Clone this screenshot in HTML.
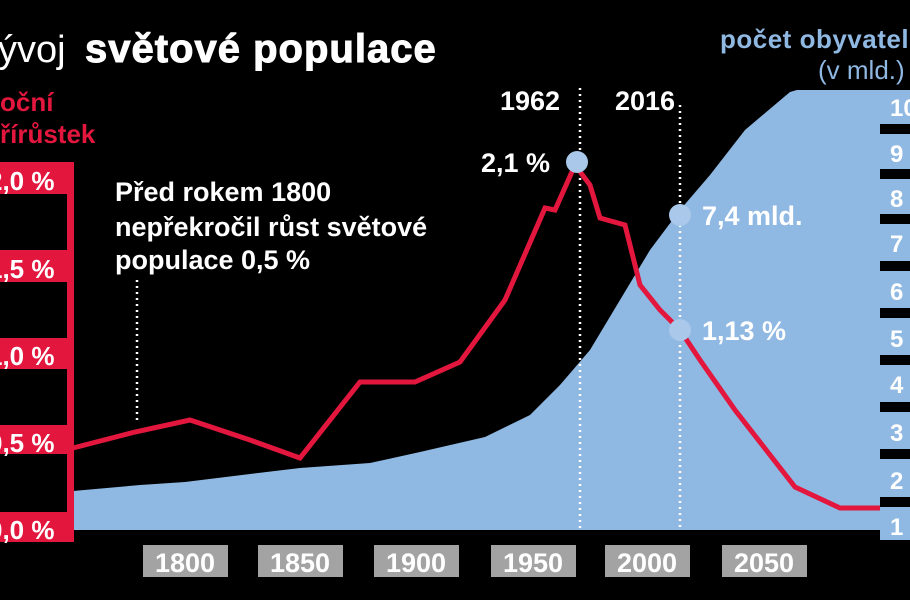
<!DOCTYPE html>
<html><head><meta charset="utf-8"><style>
body{margin:0;background:#000;}
svg{display:block}
text{font-family:"Liberation Sans","DejaVu Sans",sans-serif;}
</style></head><body>
<svg width="910" height="600" viewBox="0 0 910 600" xmlns="http://www.w3.org/2000/svg">
<rect width="910" height="600" fill="#000"/>
<polygon fill="#8fb8e2" points="73,530 73,491 140,485 185,482 250,474 300,468 370,463 420,452 485,437 530,415 560,385 590,350 620,300 650,250 680,210 710,175 745,130 790,92 797,90 880,90 880,530"/>
<rect x="880" y="90" width="30" height="450" fill="#8fb8e2"/>
<g fill="#000">
<rect x="880" y="124" width="30" height="10"/>
<rect x="880" y="169" width="30" height="10"/>
<rect x="880" y="214" width="30" height="10"/>
<rect x="880" y="261" width="30" height="10"/>
<rect x="880" y="308" width="30" height="10"/>
<rect x="880" y="355" width="30" height="10"/>
<rect x="880" y="402" width="30" height="10"/>
<rect x="880" y="449" width="30" height="10"/>
<rect x="880" y="497" width="30" height="10"/>
</g>
<g fill="#fff" font-weight="bold" font-size="24">
<text x="890" y="116">10</text><text x="890" y="162">9</text><text x="890" y="207">8</text>
<text x="890" y="252">7</text><text x="890" y="300">6</text><text x="890" y="347">5</text>
<text x="890" y="393">4</text><text x="890" y="441">3</text><text x="890" y="489">2</text><text x="890" y="535">1</text>
</g>
<rect x="67" y="162" width="7" height="380" fill="#e3173e"/>
<g fill="#e3173e">
<rect x="0" y="162" width="74" height="32"/>
<rect x="0" y="250" width="74" height="32"/>
<rect x="0" y="338" width="74" height="31"/>
<rect x="0" y="425" width="74" height="29"/>
<rect x="0" y="512" width="74" height="30"/>
</g>
<g fill="#fff" font-weight="bold" font-size="26">
<text x="-12" y="190">2,0 %</text><text x="-12" y="278">1,5 %</text><text x="-12" y="365">1,0 %</text>
<text x="-12" y="452">0,5 %</text><text x="-12" y="539">0,0 %</text>
</g>
<g stroke="#fff" stroke-width="2.5" stroke-dasharray="2,4">
<line x1="137" y1="280" x2="137" y2="422"/>
<line x1="580" y1="88" x2="580" y2="530"/>
<line x1="680" y1="105" x2="680" y2="530"/>
</g>
<polyline fill="none" stroke="#e3173e" stroke-width="5" points="73,448 135,432 190,420 250,440 300,458 360,382 415,382 460,362 505,300 545,208 555,210 575,165 590,185 600,218 625,225 640,285 660,310 680,330 700,360 735,410 795,487 840,508 880,508"/>
<circle cx="577" cy="162" r="11" fill="#a9c8ea"/>
<circle cx="680" cy="215" r="11" fill="#a9c8ea"/>
<circle cx="680" cy="330" r="11" fill="#a9c8ea"/>
<g fill="#a3a3a3">
<rect x="143" y="545" width="85" height="32"/><rect x="258" y="545" width="85" height="32"/>
<rect x="374" y="545" width="85" height="32"/><rect x="491" y="545" width="85" height="32"/>
<rect x="605" y="545" width="85" height="32"/><rect x="722" y="545" width="85" height="32"/>
</g>
<g fill="#fff" font-weight="bold" font-size="27" text-anchor="middle">
<text x="185" y="572">1800</text><text x="300" y="572">1850</text><text x="416" y="572">1900</text>
<text x="533" y="572">1950</text><text x="647" y="572">2000</text><text x="764" y="572">2050</text>
</g>
<text x="-2" y="62" fill="#fff" font-size="38">ývoj</text>
<text x="85" y="62" fill="#fff" font-size="40" font-weight="900" letter-spacing="1" stroke="#fff" stroke-width="1">světové populace</text>
<text x="0" y="111" fill="#e3173e" font-size="26" font-weight="bold">oční</text>
<text x="0" y="143" fill="#e3173e" font-size="26" font-weight="bold">řírůstek</text>
<text x="720" y="48" fill="#8fb8e2" font-size="26" font-weight="bold" letter-spacing="0.5">počet obyvatel</text>
<text x="818" y="79" fill="#8fb8e2" font-size="26">(v mld.)</text>
<g fill="#fff" font-weight="bold" font-size="27">
<text x="115" y="201">Před rokem 1800</text>
<text x="115" y="236">nepřekročil růst světové</text>
<text x="115" y="269">populace 0,5 %</text>
<text x="500" y="110">1962</text><text x="615" y="110">2016</text>
<text x="481" y="172">2,1 %</text>
<text x="702" y="225">7,4 mld.</text>
<text x="702" y="340">1,13 %</text>
</g>
</svg>
</body></html>
